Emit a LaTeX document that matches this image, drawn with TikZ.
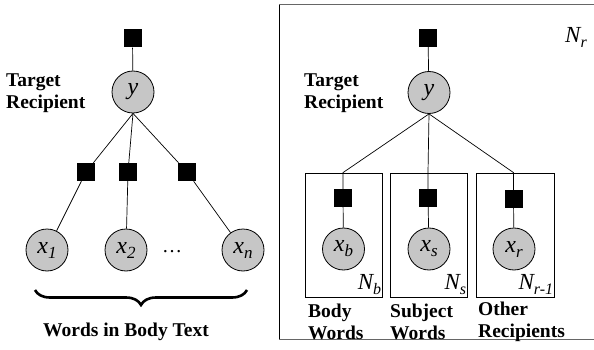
\documentclass[tikz,border=0pt]{standalone}
\usepackage{fontspec}
\setmainfont{Liberation Serif}
\usetikzlibrary{decorations.pathreplacing}
\newcommand\mvar[2]{{\fontsize{24}{24}\selectfont\itshape #1}\raisebox{-5pt}{\fontsize{17}{17}\selectfont\itshape #2}}
\newcommand\pvar[2]{{\fontsize{23}{23}\selectfont\itshape #1}\raisebox{-5pt}{\fontsize{16}{16}\selectfont\itshape #2}}
\tikzset{
  var/.style={circle, draw, fill=gray!45, minimum size=42pt, inner sep=0pt, line width=0.8pt},
  fac/.style={fill=black, minimum size=18pt, inner sep=0pt},
  lbl/.style={font=\bfseries\fontsize{19.5}{22}\selectfont, align=left, inner sep=0pt},
  plate/.style={draw, line width=0.8pt},
  edge/.style={line width=0.7pt},
  platelbl/.style={anchor=south east, inner sep=1pt, yshift=2pt}
}
\begin{document}
\begin{tikzpicture}[x=1pt,y=-1pt]
\useasboundingbox (0,0) rectangle (594,350);
% ---------- left model ----------
\node[fac] (ftL) at (132.5,38.5) {};
\node[var] (yL) at (133,92) {\mvar{y}{}};
\node[fac] (f1) at (86,172) {};
\node[fac] (f2) at (128,172) {};
\node[fac] (fn) at (187,172) {};
\node[var] (x1) at (47,250) {\mvar{x}{1}};
\node[var] (x2) at (126,250) {\mvar{x}{2}};
\node[var] (xn) at (243,250) {\mvar{x}{n}};
\node[font=\fontsize{20}{20}\selectfont] (dots) at (172,252) {\dots};
\node[lbl, anchor=west] (trL) at (6,93) {Target\\Recipient};
\draw[edge] (ftL) -- (yL);
\draw[edge] (yL.south) -- (f1);
\draw[edge] (yL.south) -- (f2);
\draw[edge] (yL.south) -- (fn);
\draw[edge] (f1) -- (x1);
\draw[edge] (f2) -- (x2);
\draw[edge] (fn) -- (xn);
\coordinate (bl) at (35,290);
\coordinate (br) at (247,290);
\draw[line width=2.6pt, decorate, decoration={brace, mirror, amplitude=15pt}] (bl) -- (br);
\node[lbl] (words) at (126,332) {Words in Body Text};
% ---------- right model ----------
\draw[line width=1pt, gray!80!black] (600,5) -- (279,5) -- (279,339) -- (600,339);
\draw[line width=1pt] (279,5) -- (279,339);
\node[anchor=center] (Nr) at (576,37) {\pvar{N}{r}};
\node[fac] (ftR) at (428,38) {};
\node[var] (yR) at (429,92.5) {\mvar{y}{}};
\node[lbl, anchor=west] (trR) at (304,93) {Target\\Recipient};
\node[plate, minimum width=77pt, minimum height=124pt, inner sep=0pt] (pb) at (343.5,235) {};
\node[plate, minimum width=77pt, minimum height=124pt, inner sep=0pt] (ps) at (428.5,235) {};
\node[plate, minimum width=78pt, minimum height=124pt, inner sep=0pt] (pr) at (515,235) {};
\node[fac] (fb) at (343,198) {};
\node[fac] (fs) at (428,198) {};
\node[fac] (fr) at (513.5,199) {};
\node[var] (xb) at (343.5,249) {\mvar{x}{b}};
\node[var] (xs) at (429,249) {\mvar{x}{s}};
\node[var] (xr) at (514,249) {\mvar{x}{r}};
\node[platelbl] (Nb) at (pb.south east) {\pvar{N}{b}};
\node[platelbl] (Ns) at (ps.south east) {\pvar{N}{s}};
\node[platelbl] (Nr1) at (pr.south east) {\pvar{N}{r-1}};
\coordinate (tb) at (fb |- pb.north);
\coordinate (ts) at (fs |- ps.north);
\coordinate (tr) at (fr |- pr.north);
\draw[edge] (ftR) -- (yR);
\draw[edge] (yR.south) -- (tb) -- (fb);
\draw[edge] (yR.south) -- (ts) -- (fs);
\draw[edge] (yR.south) -- (tr) -- (fr);
\draw[edge] (fb) -- (xb);
\draw[edge] (fs) -- (xs);
\draw[edge] (fr) -- (xr);
\node[lbl, anchor=west] (bw) at (308,322) {Body\\Words};
\node[lbl, anchor=west] (sw) at (390,322) {Subject\\Words};
\node[lbl, anchor=west] (orc) at (478,322) {Other\\Recipients};
\end{tikzpicture}
\end{document}
